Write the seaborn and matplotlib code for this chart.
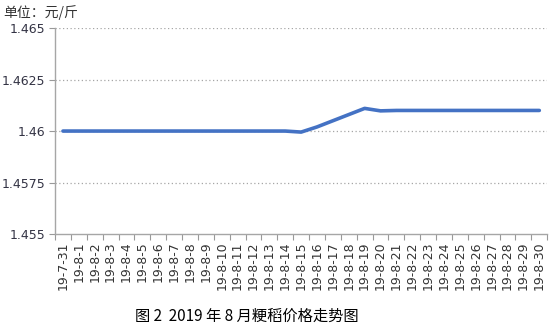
import matplotlib
matplotlib.use("Agg")
import matplotlib.pyplot as plt
import seaborn as sns
import pandas as pd
from matplotlib.ticker import FixedLocator

dates = ["19-7-31"] + [f"19-8-{d}" for d in range(1, 31)]
prices = [1.46] * 15 + [1.45995, 1.4602, 1.4605, 1.4608, 1.4611, 1.46098] + [1.461] * 10

sns.set_theme(style="white")
plt.rcParams['font.family'] = ['Noto Sans CJK SC', 'DejaVu Sans']

df = pd.DataFrame({"date": dates, "price": prices})

fig = plt.figure(figsize=(5.5, 3.26), dpi=100)
ax = fig.add_axes([0.1, 0.282, 0.895, 0.632])
sns.lineplot(data=df, x="date", y="price", sort=False, ax=ax, color="#4472C4", linewidth=2.6)

ax.set_xlim(-0.5, len(dates) - 0.5)
ax.set_ylim(1.455, 1.465)
yt = [1.455, 1.4575, 1.46, 1.4625, 1.465]
ax.set_yticks(yt)
ax.set_yticklabels(["1.455", "1.4575", "1.46", "1.4625", "1.465"], fontsize=9,
                   color="#333344", family="DejaVu Sans")
ax.set_xticks(range(len(dates)))
ax.set_xticklabels(dates, rotation=90, fontsize=9, color="#333333", family="DejaVu Sans")
ax.tick_params(axis="x", which="major", length=0, pad=5)
ax.xaxis.set_minor_locator(FixedLocator([i - 0.5 for i in range(len(dates) + 1)]))
ax.tick_params(axis="x", which="minor", length=4, color="#999999", width=0.8, bottom=True)
ax.tick_params(axis="y", length=4, color="#999999", width=0.8, left=True, pad=3)
ax.set_xlabel("")
ax.set_ylabel("")

for y in yt[1:]:
    ax.axhline(y, color="#A6A6A6", linestyle=(0, (1, 2)), linewidth=0.9, zorder=0)

for s in ["top", "right"]:
    ax.spines[s].set_visible(False)
for s in ["left", "bottom"]:
    ax.spines[s].set_color("#A6A6A6")
    ax.spines[s].set_linewidth(1.0)

fig.text(0.005, 0.985, "单位：元/斤", fontsize=10, color="#333333", va="top", ha="left")
fig.text(0.448, 0.03, "图 2  2019 年 8 月粳稻价格走势图", fontsize=11, color="#000000",
         va="center", ha="center")

fig.savefig("out.png", dpi=100)
